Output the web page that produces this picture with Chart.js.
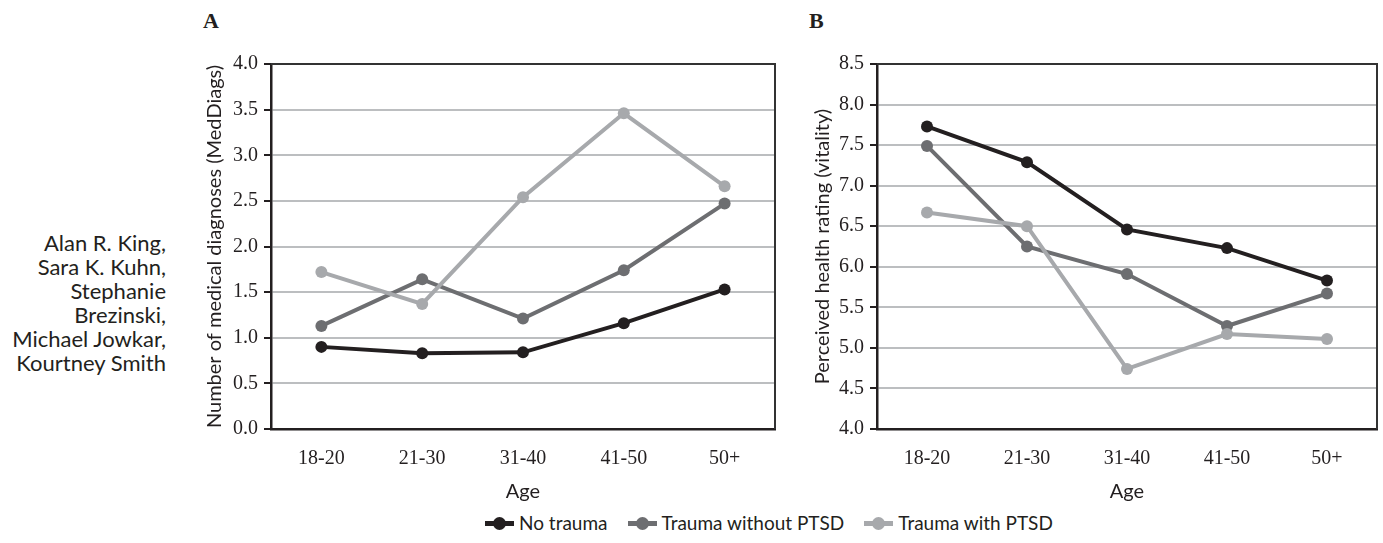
<!DOCTYPE html>
<html>
<head>
<meta charset="utf-8">
<script src="https://cdn.jsdelivr.net/npm/chart.js@4.4.0/dist/chart.umd.min.js"></script>
<style>
  body { margin: 0; background: #fff; width: 1383px; height: 543px; position: relative; overflow: hidden;
         font-family: "Lato", sans-serif; color: #231f20; }
  canvas { position: absolute; top: 0; }
  #authors { position: absolute; left: 0; width: 166px; top: 231px; text-align: right;
             font-size: 22px; line-height: 24px; }
  .panel { position: absolute; top: 8px; font: bold 22px "Liberation Serif", serif; }
  #legend { position: absolute; left: 485px; top: 511px; display: flex; align-items: center;
            font-size: 19px; line-height: 24px; white-space: nowrap; }
  .item { display: flex; align-items: center; margin-right: 20px; }
  .mark { position: relative; width: 29px; height: 5px; margin-right: 5px; }
  .mark::after { content: ""; position: absolute; left: 8px; top: -4px; width: 13px; height: 13px;
                 border-radius: 50%; background: inherit; }
</style>
</head>
<body>
<div id="authors">Alan R. King,<br>Sara K. Kuhn,<br>Stephanie<br>Brezinski,<br>Michael Jowkar,<br>Kourtney Smith</div>
<div class="panel" style="left:203px">A</div>
<div class="panel" style="left:809px">B</div>
<canvas id="chartA" width="600" height="504" style="left:195px;width:600px;height:504px"></canvas>
<canvas id="chartB" width="582" height="504" style="left:801px;width:582px;height:504px"></canvas>
<div id="legend"></div>

<script>
// ---- datos ----
const ageGroups = ['18-20', '21-30', '31-40', '41-50', '50+'];
const seriesNames = ['No trauma', 'Trauma without PTSD', 'Trauma with PTSD'];
const seriesColors = ['#231f20', '#6d6e71', '#a7a9ac'];

// A: número de diagnósticos médicos
const medNoTrauma      = [0.90, 0.83, 0.84, 1.16, 1.53];
const medTraumaNoPTSD  = [1.13, 1.64, 1.21, 1.74, 2.47];
const medTraumaPTSD    = [1.72, 1.37, 2.54, 3.46, 2.66];

// B: salud percibida (vitalidad)
const vitNoTrauma      = [7.73, 7.29, 6.46, 6.23, 5.83];
const vitTraumaNoPTSD  = [7.49, 6.25, 5.91, 5.27, 5.67];
const vitTraumaPTSD    = [6.67, 6.50, 4.74, 5.17, 5.11];

const BLACK = '#231f20';
const GRID = '#bcbec0';
const SERIF = '"Liberation Serif", serif';
const SANS = 'Lato, sans-serif';

// marco superior y derecho del área del gráfico
const framePlugin = {
  id: 'frame',
  beforeDatasetsDraw(chart) {
    const { ctx, chartArea: a } = chart;
    ctx.save();
    ctx.strokeStyle = '#333333';
    ctx.lineWidth = 2;
    ctx.beginPath();
    ctx.moveTo(a.left, a.top);
    ctx.lineTo(a.right, a.top);
    ctx.lineTo(a.right, a.bottom);
    ctx.stroke();
    ctx.restore();
  }
};

function crearGrafico(id, series, yMin, yMax, yTitle, rightPad, titlePad) {
  const datasets = series.map((vals, i) => ({
    label: seriesNames[i],
    data: vals,
    borderColor: seriesColors[i],
    backgroundColor: seriesColors[i],
    borderWidth: 4,
    pointRadius: 6,
    pointBorderWidth: 0,
    pointBackgroundColor: seriesColors[i],
    tension: 0,
    order: series.length - i
  }));

  return new Chart(document.getElementById(id), {
    type: 'line',
    data: { labels: ageGroups, datasets },
    options: {
      responsive: false,
      animation: false,
      layout: { padding: { top: 64, right: rightPad, bottom: 0, left: 0 } },
      plugins: { legend: { display: false }, tooltip: { enabled: false } },
      scales: {
        x: {
          offset: true,
          grid: { display: false },
          border: { color: BLACK, width: 2.5 },
          ticks: { color: BLACK, padding: 10, font: { family: SERIF, size: 20 } },
          title: { display: true, text: 'Age', color: BLACK, padding: 0, font: { family: SANS, size: 20 } },
          afterFit: (s) => { s.height = 75; }
        },
        y: {
          min: yMin,
          max: yMax,
          grid: {
            color: (c) => (c.tick && (c.tick.value === yMin || c.tick.value === yMax)) ? 'rgba(0,0,0,0)' : GRID,
            lineWidth: 2,
            tickColor: BLACK,
            tickLength: 7,
            tickWidth: 2
          },
          border: { color: BLACK, width: 2.5 },
          ticks: {
            stepSize: 0.5,
            color: BLACK,
            padding: 6,
            font: { family: SERIF, size: 20 },
            callback: (v) => Number(v).toFixed(1)
          },
          title: { display: true, text: yTitle, color: BLACK, padding: { top: titlePad, bottom: 0 }, font: { family: SANS, size: 20 } },
          afterFit: (s) => { s.width = 76; }
        }
      }
    },
    plugins: [framePlugin]
  });
}

crearGrafico('chartA', [medNoTrauma, medTraumaNoPTSD, medTraumaPTSD], 0, 4,
  'Number of medical diagnoses (MedDiags)', 20, 8);
crearGrafico('chartB', [vitNoTrauma, vitTraumaNoPTSD, vitTraumaPTSD], 4, 8.5,
  'Perceived health rating (vitality)', 2, 10);

// leyenda compartida
document.getElementById('legend').innerHTML = seriesNames.map((n, i) =>
  `<span class="item"><span class="mark" style="background:${seriesColors[i]}"></span>${n}</span>`
).join('');
</script>
</body>
</html>
